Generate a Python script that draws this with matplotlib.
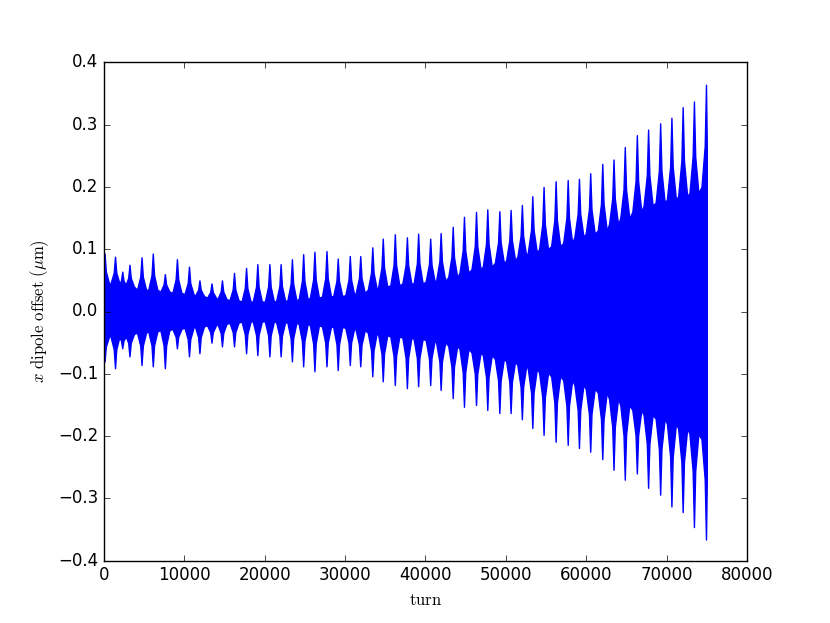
import matplotlib
matplotlib.use('Agg')
import matplotlib.pyplot as plt
import numpy as np

plt.style.use('classic')
plt.rcParams['mathtext.fontset'] = 'cm'
plt.rcParams['figure.facecolor'] = 'white'

# number of turns tracked
n_turns = 75000

# Burst positions (turn) and peak values
burst_turn = [100, 1400, 2300, 3200, 4700, 6100, 7600, 9100, 10600, 11900,
              13400, 14700, 16200, 17700, 19100, 20600, 22000, 23400, 24800, 26200,
              27700, 29100, 30600, 31900, 33400, 34700, 36200, 37700, 39100, 40600,
              41900, 43400, 44800, 46300, 47700, 49200, 50600, 52000, 53300, 54700,
              56200, 57700, 59100, 60500, 62000, 63400, 64800, 66300, 67700, 69200,
              70600, 72000, 73400, 74900]
burst_top = [0.093, 0.088, 0.064, 0.075, 0.087, 0.093, 0.060, 0.084, 0.072, 0.050,
             0.045, 0.050, 0.062, 0.070, 0.076, 0.076, 0.076, 0.084, 0.092, 0.096,
             0.097, 0.085, 0.089, 0.089, 0.103, 0.117, 0.124, 0.119, 0.125, 0.117,
             0.126, 0.136, 0.152, 0.160, 0.164, 0.161, 0.163, 0.171, 0.185, 0.200,
             0.209, 0.211, 0.213, 0.222, 0.237, 0.244, 0.264, 0.283, 0.292, 0.302,
             0.311, 0.328, 0.337, 0.364]
burst_bot = [-0.080, -0.091, -0.059, -0.072, -0.086, -0.088, -0.091, -0.059, -0.072, -0.067,
             -0.050, -0.056, -0.056, -0.067, -0.070, -0.072, -0.072, -0.080, -0.088, -0.096,
             -0.088, -0.094, -0.086, -0.088, -0.104, -0.112, -0.118, -0.123, -0.120, -0.118,
             -0.126, -0.139, -0.153, -0.150, -0.158, -0.163, -0.163, -0.173, -0.187, -0.198,
             -0.209, -0.214, -0.219, -0.225, -0.237, -0.254, -0.270, -0.260, -0.283, -0.294,
             -0.313, -0.322, -0.346, -0.366]

# Level of the dense oscillation band next to each burst
band_top = [0.045, 0.045, 0.040, 0.040, 0.035, 0.035, 0.032, 0.030, 0.028, 0.025,
            0.022, 0.020, 0.018, 0.016, 0.016, 0.016, 0.017, 0.018, 0.020, 0.022,
            0.024, 0.025, 0.026, 0.030, 0.035, 0.040, 0.042, 0.045, 0.045, 0.048,
            0.050, 0.055, 0.062, 0.068, 0.072, 0.078, 0.082, 0.088, 0.095, 0.100,
            0.105, 0.110, 0.120, 0.125, 0.130, 0.140, 0.150, 0.160, 0.170, 0.175,
            0.180, 0.185, 0.190, 0.200]
band_bot = [-0.040, -0.040, -0.038, -0.036, -0.034, -0.032, -0.030, -0.028, -0.026, -0.024,
            -0.022, -0.020, -0.018, -0.016, -0.016, -0.016, -0.017, -0.018, -0.020, -0.022,
            -0.024, -0.025, -0.026, -0.030, -0.034, -0.038, -0.040, -0.042, -0.044, -0.046,
            -0.050, -0.055, -0.060, -0.066, -0.070, -0.076, -0.080, -0.086, -0.092, -0.098,
            -0.104, -0.110, -0.118, -0.124, -0.130, -0.140, -0.150, -0.158, -0.166, -0.172,
            -0.180, -0.188, -0.196, -0.205]

# spike shape: broad base, narrow tip (turns / fraction of spike height)
w_base = 560
w_mid = 160
h_mid = 0.4

xs, up, lo = [], [], []
for t, pt, pb, bt, bb in zip(burst_turn, burst_top, burst_bot, band_top, band_bot):
    xs += [t - w_base, t - w_mid, t, t + w_mid, t + w_base]
    up += [bt, bt + h_mid * (pt - bt), pt, bt + h_mid * (pt - bt), bt]
    lo += [bb, bb + h_mid * (pb - bb), pb, bb + h_mid * (pb - bb), bb]
xs = np.clip(xs, 0, n_turns)

fig = plt.figure(figsize=(8.3, 6.23), dpi=100)
ax = fig.add_subplot(111)
ax.fill_between(xs, up, lo, facecolor='b', edgecolor='b', linewidth=1)

ax.set_xlim(0, 80000)
ax.set_ylim(-0.4, 0.4)
ax.set_xlabel(r'$\mathrm{turn}$', fontsize=12)
ax.set_ylabel(r'$x\ \mathrm{dipole\ offset}\ (\mu\mathrm{m})$', fontsize=12)

plt.savefig('out.png', dpi=100)
